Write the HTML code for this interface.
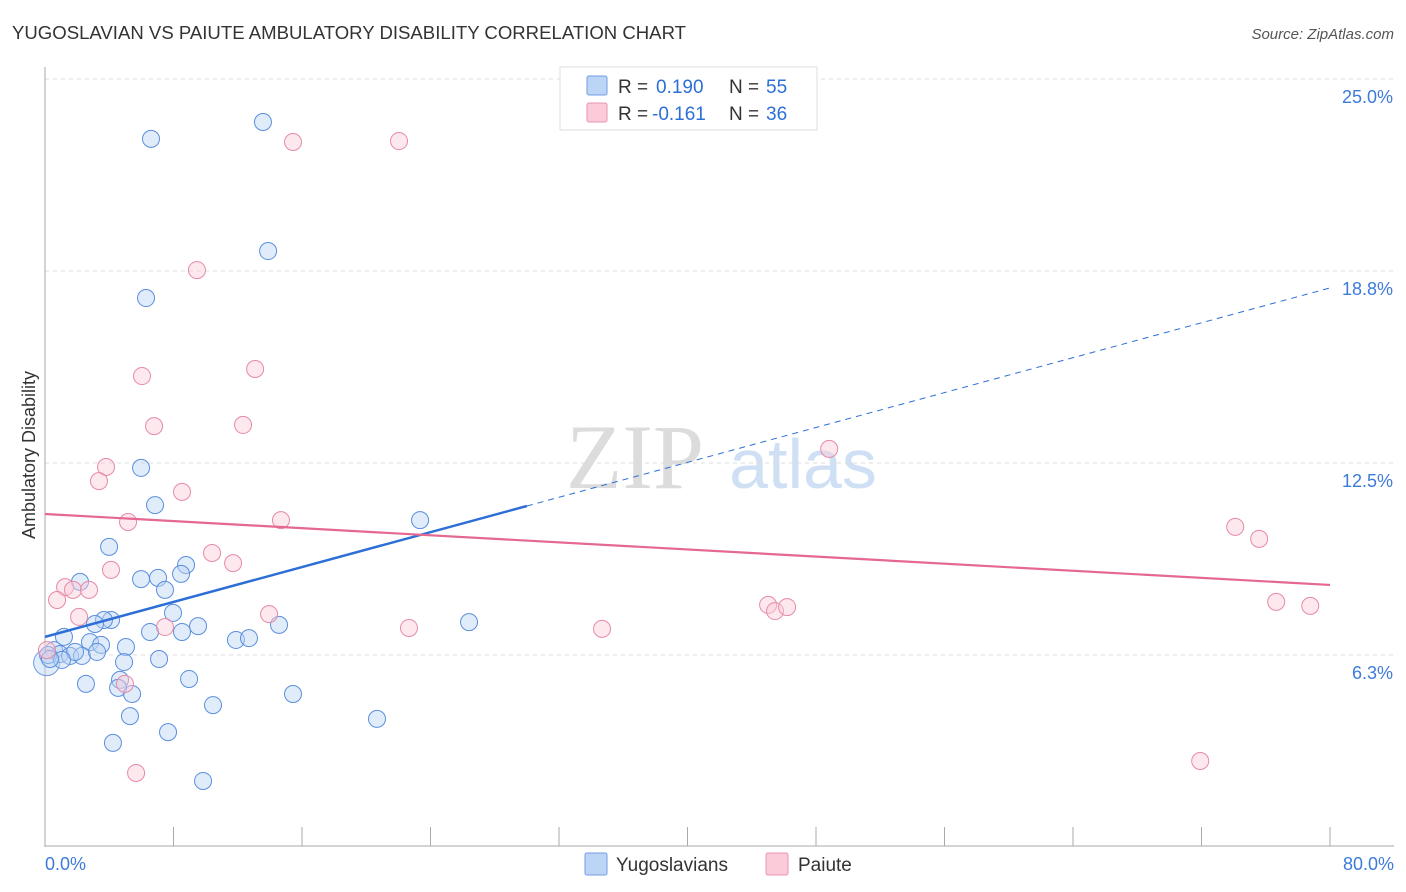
<!DOCTYPE html>
<html><head><meta charset="utf-8"><style>
body{margin:0;background:#fff;font-family:"Liberation Sans",sans-serif}
svg{display:block}
</style></head><body>
<svg id="c" width="1406" height="892" xmlns="http://www.w3.org/2000/svg">
<text x="12" y="39" font-size="18" fill="#333" textLength="674" lengthAdjust="spacingAndGlyphs">YUGOSLAVIAN VS PAIUTE AMBULATORY DISABILITY CORRELATION CHART</text>
<text x="1394" y="39" font-size="15" fill="#555" font-style="italic" text-anchor="end">Source: ZipAtlas.com</text>
<g>
<text x="635" y="488" font-size="92" fill="#dcdcdc" font-family="Liberation Serif,serif" text-anchor="middle">ZIP</text>
<text x="803" y="488" font-size="70" fill="#cfe0f5" text-anchor="middle">atlas</text>
</g>
<g id="grid"></g>
<g id="axes"></g>
<g id="pts"></g>
<g id="trend"></g>
<text x="35" y="455" font-size="18" fill="#333" transform="rotate(-90 35 455)" text-anchor="middle">Ambulatory Disability</text>
<text x="45" y="870" font-size="18" fill="#3d7bd9">0.0%</text>
<text x="1394" y="870" font-size="18" fill="#3d7bd9" text-anchor="end">80.0%</text>
<g>
<rect x="560" y="67" width="257" height="63" fill="#fff" stroke="#ddd"/>
<rect x="587" y="76" width="20" height="19" fill="#bcd4f5" stroke="#6f9de0" rx="2"/>
<rect x="587" y="103" width="20" height="19" fill="#fbcbd9" stroke="#e995b0" rx="2"/>
<text x="618" y="93" font-size="19" fill="#333">R =</text>
<text x="656" y="93" font-size="19" fill="#2d6fd6">0.190</text>
<text x="729" y="93" font-size="19" fill="#333">N =</text>
<text x="766" y="93" font-size="19" fill="#2d6fd6">55</text>
<text x="618" y="120" font-size="19" fill="#333">R =</text>
<text x="652" y="120" font-size="19" fill="#2d6fd6">-0.161</text>
<text x="729" y="120" font-size="19" fill="#333">N =</text>
<text x="766" y="120" font-size="19" fill="#2d6fd6">36</text>
</g>
<g>
<rect x="585" y="853" width="22" height="22" fill="#bcd4f5" stroke="#6f9de0" rx="2"/>
<text x="616" y="871" font-size="19" fill="#333">Yugoslavians</text>
<rect x="766" y="853" width="22" height="22" fill="#fbcbd9" stroke="#e995b0" rx="2"/>
<text x="798" y="871" font-size="19" fill="#333">Paiute</text>
</g>
</svg>
<script>
const yTicks=[25,18.75,12.5,6.25];
const yTickLabels=["25.0%","18.8%","12.5%","6.3%"];
const blueX=[6.6,13.57,13.89,6.29,5.98,6.85,23.35,3.99,2.18,5.98,7.04,8.78,8.47,7.47,7.97,4.11,3.67,3.11,6.54,8.53,9.53,11.89,12.7,14.57,26.4,1.18,2.8,3.49,5.04,0.56,0.93,1.56,2.3,3.24,1.87,0.19,1.06,0.31,4.92,7.1,8.97,4.67,4.55,5.42,15.44,2.55,10.46,5.29,20.67,7.66,4.23,9.84];
const blueY=[23.05,23.6,19.4,17.87,12.34,11.13,10.64,9.77,8.63,8.72,8.76,9.18,8.89,8.37,7.62,7.39,7.39,7.26,7.0,7.0,7.19,6.74,6.8,7.23,7.32,6.84,6.67,6.58,6.51,6.41,6.28,6.22,6.22,6.35,6.35,6.25,6.09,6.12,6.02,6.12,5.47,5.44,5.18,4.98,4.98,5.31,4.62,4.26,4.17,3.74,3.39,2.15];
const pinkX=[15.44,22.04,9.46,6.04,13.08,6.79,12.33,3.8,3.36,8.53,5.17,14.69,10.4,11.71,4.11,1.25,1.74,2.74,0.75,2.12,13.95,7.47,22.66,34.68,45.02,45.45,46.2,48.82,74.1,75.59,76.65,78.77,71.92,5.67,4.98,0.12];
const pinkY=[22.95,22.98,18.78,15.33,15.56,13.7,13.74,12.37,11.91,11.56,10.58,10.64,9.57,9.24,9.02,8.46,8.37,8.37,8.04,7.49,7.58,7.16,7.13,7.1,7.88,7.68,7.81,12.96,10.42,10.03,7.98,7.85,2.8,2.41,5.31,6.41];
const blueTrend=[6.84,18.2];
const pinkTrend=[10.84,8.53];
const blueSolidEnd=30;
const X0=45,X1=1330,Y0=847;
const xs=v=>X0+v*(X1-X0)/80;
const ys=v=>Y0-v*30.72;
const NS="http://www.w3.org/2000/svg";
function mk(tag,attrs,parent){const e=document.createElementNS(NS,tag);for(const k in attrs)e.setAttribute(k,attrs[k]);document.getElementById(parent).appendChild(e);return e;}
yTicks.forEach((t,i)=>{
 const g=mk('line',{x1:X0,x2:1394,y1:ys(t),y2:ys(t),stroke:'#ddd','stroke-dasharray':'4 4'},'grid');
 
 
 const tx=mk('text',{x:1393,y:ys(t)+24,'font-size':18,fill:'#3d7bd9','text-anchor':'end'},'grid');
 tx.textContent=yTickLabels[i];
 
 
});
const ax=mk('line',{x1:X0,x2:X0,y1:67,y2:847,stroke:'#aaa'},'axes');


const bx=mk('line',{x1:X0,x2:1394,y1:846,y2:846,stroke:'#aaa'},'axes');


for(let i=0;i<=10;i++){const t=mk('line',{x1:xs(i*8),x2:xs(i*8),y1:827,y2:846,stroke:'#aaa'},'axes');
 
 }
function dot(x,y,fill,stroke,name,r){const c=mk('circle',{cx:xs(x),cy:ys(y),r:r,fill:fill,'fill-opacity':0.45,stroke:stroke,'stroke-width':1},'pts');
 
 }
dot(0.1,6.0,'#bcd4f5','#6f9de0','yugoslavian-point-large',13);
blueX.forEach((x,i)=>dot(x,blueY[i],'#bcd4f5','#5a8fdd','yugoslavian-point',8.5));
pinkX.forEach((x,i)=>dot(x,pinkY[i],'#fbcbd9','#e68aa8','paiute-point',8.5));
const by=x=>blueTrend[0]+(blueTrend[1]-blueTrend[0])*x/80;
const l1=mk('line',{x1:xs(0),y1:ys(by(0)),x2:xs(blueSolidEnd),y2:ys(by(blueSolidEnd)),stroke:'#2d6fd6','stroke-width':2.5},'trend');


const l2=mk('line',{x1:xs(blueSolidEnd),y1:ys(by(blueSolidEnd)),x2:xs(80),y2:ys(by(80)),stroke:'#2d6fd6','stroke-width':1,'stroke-dasharray':'6 5'},'trend');


const l3=mk('line',{x1:xs(0),y1:ys(pinkTrend[0]),x2:xs(80),y2:ys(pinkTrend[1]),stroke:'#e4688f','stroke-width':2.2},'trend');


</script>
</body></html>
